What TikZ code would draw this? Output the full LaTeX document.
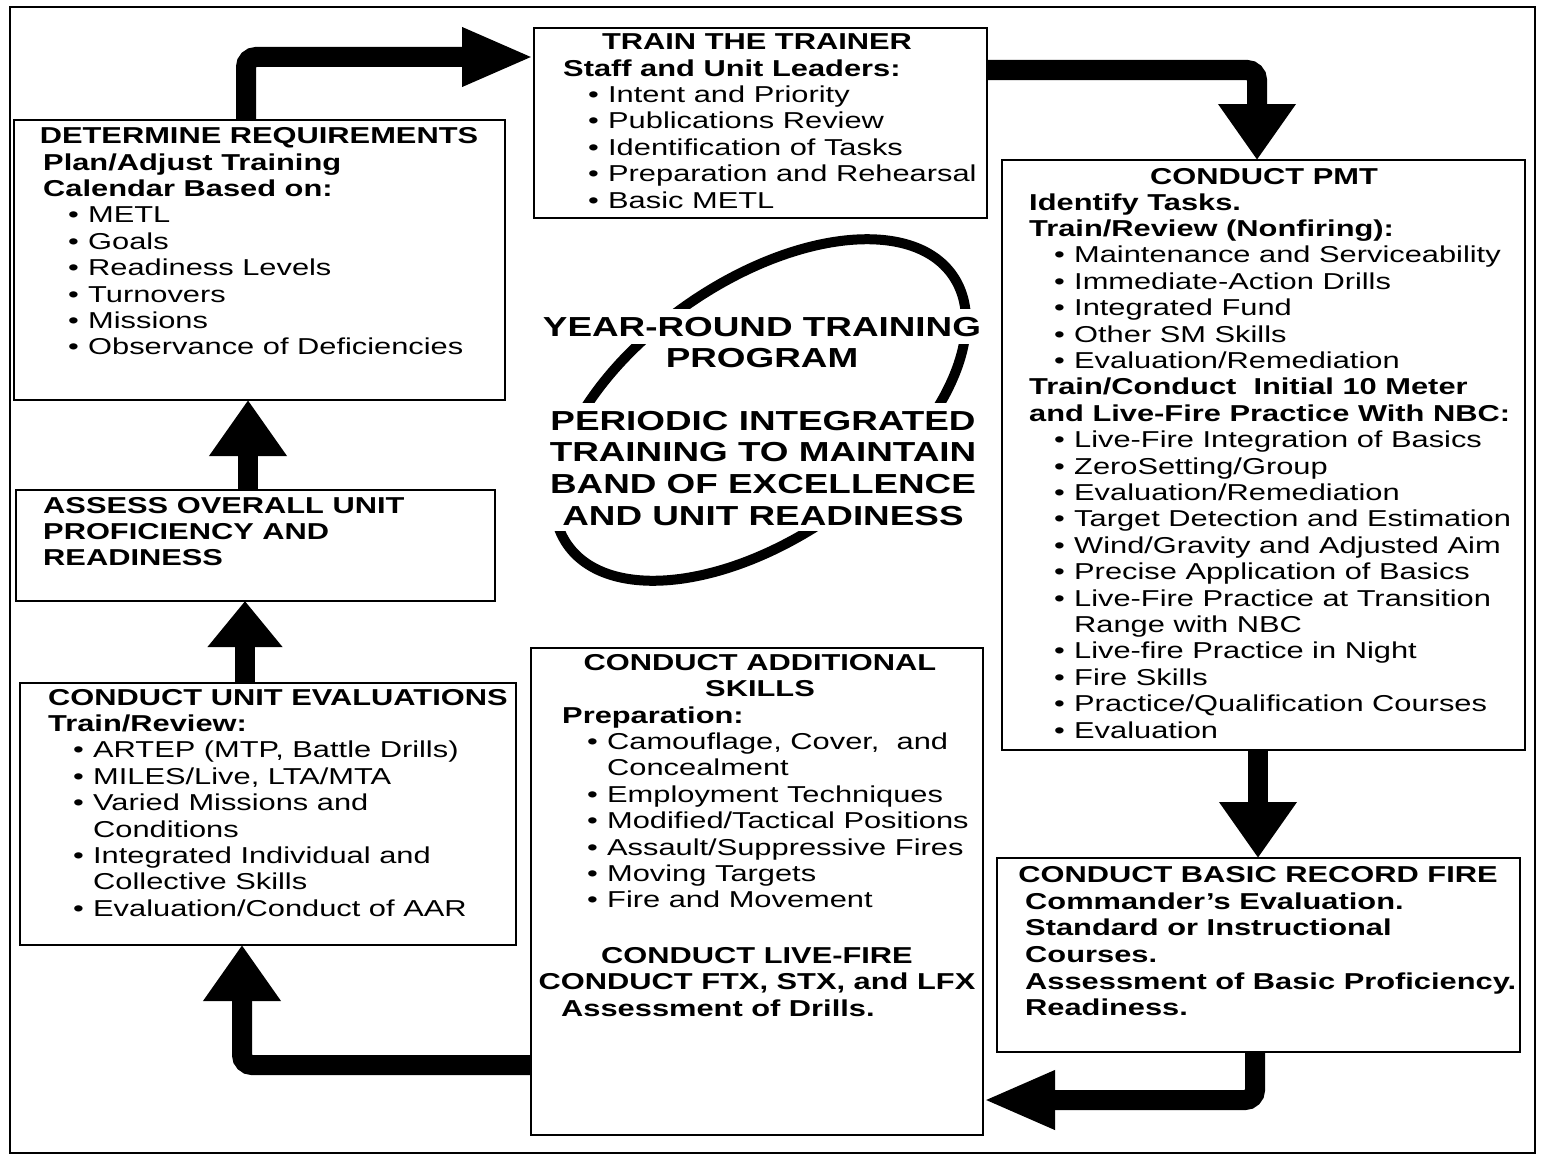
\documentclass[tikz,border=0pt]{standalone}
\usepackage{fontspec}
\setmainfont{Liberation Sans}[FakeStretch=1.34]
\usetikzlibrary{arrows.meta,fit}
\newcommand\itm[1]{\hspace*{25pt}\makebox[20pt][l]{\textbullet}#1}
\newcommand\cont[1]{\hspace*{45pt}#1}
\tikzset{
  box/.style={draw, line width=2.2pt, inner sep=0pt, outer sep=0pt, rectangle},
  bodytxt/.style={font=\fontsize{23}{26.4}\selectfont, inner sep=0pt, anchor=north west, align=left},
  titletxt/.style={font=\fontsize{23}{26.4}\selectfont\bfseries, inner sep=0pt, anchor=base},
  flow/.style={line width=20pt, rounded corners=10pt},
  vtip/.style={flow, -{Triangle[width=74pt,length=56pt]}},
  htip/.style={flow, -{Triangle[width=54pt,length=72pt]}},
  bigtxt/.style={font=\fontsize{27.5}{31.7}\selectfont\bfseries, inner sep=0pt, align=center},
}
\begin{document}
\begin{tikzpicture}[x=1pt,y=-1pt]
\useasboundingbox (0,0) rectangle (1541,1156);
% outer frame
\draw[line width=2pt] (10,7) rectangle (1535,1153);

% central ellipse and texts
\draw[line width=10pt, rotate around={35:(760,410)}] (760,410) ellipse [x radius=235pt, y radius=128pt];
\node[bigtxt, anchor=base, fill=white, inner xsep=4pt, inner ysep=8pt] (yr) at (762,336) {YEAR-ROUND TRAINING};
\node[bigtxt, anchor=base] (prog) at (762,367) {PROGRAM};
\node[bigtxt, anchor=north, fill=white, inner xsep=8pt, inner ysep=5pt] (per) at (763,402.8)
  {\strut PERIODIC INTEGRATED\\TRAINING TO MAINTAIN\\BAND OF EXCELLENCE\\AND UNIT READINESS};

% boxes
\node[box, fit={(14,120) (505,400)}] (det) {};
\node[box, fit={(534,28) (987,218)}] (ttt) {};
\node[box, fit={(1002,160) (1525,750)}] (pmt) {};
\node[box, fit={(997,858) (1520,1052)}] (brf) {};
\node[box, fit={(531,648) (983,1135)}] (add) {};
\node[box, fit={(20,683) (516,945)}] (uev) {};
\node[box, fit={(16,490) (495,601)}] (ass) {};

% connectors
\draw[htip] ([xshift=232pt]det.north west) |- ([yshift=-29pt]ttt.north west);
\draw[vtip] ([yshift=-42pt]ttt.north east) -| ([xshift=255pt]pmt.north west);
\draw[vtip] ([xshift=256pt]pmt.south west) -- ([xshift=261pt]brf.north west);
\draw[htip] ([xshift=258pt]brf.south west) |- ([yshift=-452pt]add.north east);
\draw[vtip] ([yshift=-417pt]add.north west) -| ([xshift=222pt]uev.south west);
\draw[flow, -{Triangle[width=72pt,length=46pt]}] ([xshift=225pt]uev.north west) -- ([xshift=229pt]ass.south west);
\draw[vtip] ([xshift=232pt]ass.north west) -- ([xshift=234pt]det.south west);

% DETERMINE REQUIREMENTS
\node[titletxt] (detT) at (259,143) {DETERMINE REQUIREMENTS};
\node[bodytxt] (detB) at (43,151.5) {\strut\textbf{Plan/Adjust Training}\\
\textbf{Calendar Based on:}\\
\itm{METL}\\
\itm{Goals}\\
\itm{Readiness Levels}\\
\itm{Turnovers}\\
\itm{Missions}\\
\itm{Observance of Deficiencies}};

% TRAIN THE TRAINER
\node[titletxt] (tttT) at (757,50) {TRAIN THE TRAINER};
\node[bodytxt] (tttB) at (563,57.5) {\strut\textbf{Staff and Unit Leaders:}\\
\itm{Intent and Priority}\\
\itm{Publications Review}\\
\itm{Identification of Tasks}\\
\itm{Preparation and Rehearsal}\\
\itm{Basic METL}};

% CONDUCT PMT
\node[titletxt] (pmtT) at (1264,184) {CONDUCT PMT};
\node[bodytxt] (pmtB) at (1029,191.5) {\strut\textbf{Identify Tasks.}\\
\textbf{Train/Review (Nonfiring):}\\
\itm{Maintenance and Serviceability}\\
\itm{Immediate-Action Drills}\\
\itm{Integrated Fund}\\
\itm{Other SM Skills}\\
\itm{Evaluation/Remediation}\\
\textbf{Train/Conduct\ \ Initial 10 Meter}\\
\textbf{and Live-Fire Practice With NBC:}\\
\itm{Live-Fire Integration of Basics}\\
\itm{ZeroSetting/Group}\\
\itm{Evaluation/Remediation}\\
\itm{Target Detection and Estimation}\\
\itm{Wind/Gravity and Adjusted Aim}\\
\itm{Precise Application of Basics}\\
\itm{Live-Fire Practice at Transition}\\
\cont{Range with NBC}\\
\itm{Live-fire Practice in Night}\\
\itm{Fire Skills}\\
\itm{Practice/Qualification Courses}\\
\itm{Evaluation}};

% CONDUCT BASIC RECORD FIRE
\node[titletxt] (brfT) at (1258,882) {CONDUCT BASIC RECORD FIRE};
\node[bodytxt, font=\fontsize{23}{26.6}\selectfont\bfseries] (brfB) at (1025,890.5) {\strut Commander's Evaluation.\\
Standard or Instructional\\
Courses.\\
Assessment of Basic Proficiency.\\
Readiness.};

% CONDUCT ADDITIONAL SKILLS
\node[titletxt, anchor=north, align=center] (addT) at (760,651.5) {\strut CONDUCT ADDITIONAL\\SKILLS};
\node[bodytxt] (addB) at (562,704.5) {\strut\textbf{Preparation:}\\
\itm{Camouflage, Cover,\ \ and}\\
\cont{Concealment}\\
\itm{Employment Techniques}\\
\itm{Modified/Tactical Positions}\\
\itm{Assault/Suppressive Fires}\\
\itm{Moving Targets}\\
\itm{Fire and Movement}};
\node[titletxt, anchor=north, align=center] (addL) at (757,944.5) {\strut CONDUCT LIVE-FIRE\\CONDUCT FTX, STX, and LFX};
\node[titletxt, anchor=base west] (addD) at (561,1016) {Assessment of Drills.};

% CONDUCT UNIT EVALUATIONS
\node[bodytxt] (uevB) at (48,686.5) {\strut\textbf{CONDUCT UNIT EVALUATIONS}\\
\textbf{Train/Review:}\\
\itm{ARTEP (MTP, Battle Drills)}\\
\itm{MILES/Live, LTA/MTA}\\
\itm{Varied Missions and}\\
\cont{Conditions}\\
\itm{Integrated Individual and}\\
\cont{Collective Skills}\\
\itm{Evaluation/Conduct of AAR}};

% ASSESS
\node[bodytxt, font=\fontsize{23}{26.4}\selectfont\bfseries] (assB) at (43,494.5) {\strut ASSESS OVERALL UNIT\\
PROFICIENCY AND\\
READINESS};
\end{tikzpicture}
\end{document}
